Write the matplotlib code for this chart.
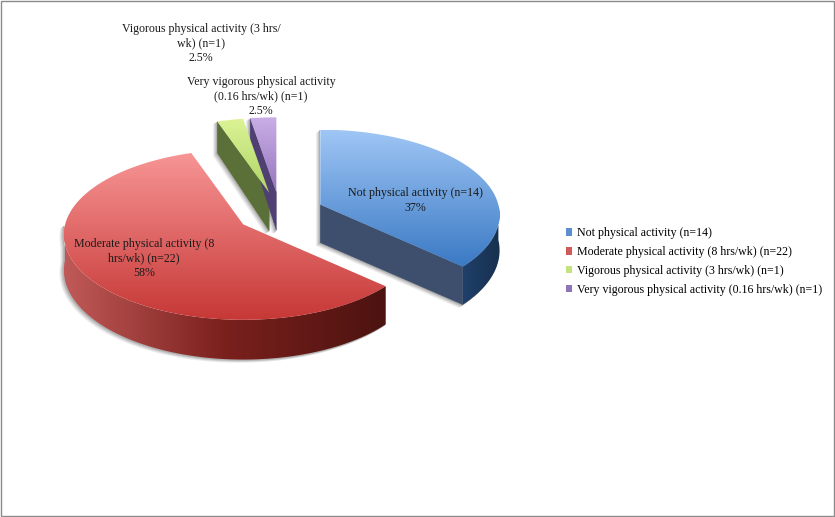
import numpy as np
import matplotlib
matplotlib.use("Agg")
import matplotlib.pyplot as plt
from matplotlib.colors import LinearSegmentedColormap
from matplotlib.patches import Patch, Polygon, Rectangle

plt.rcParams['font.family'] = ['Liberation Serif', 'DejaVu Serif']

# data
names = ["Not physical activity (n=14)",
         "Moderate physical activity (8 hrs/wk) (n=22)",
         "Vigorous physical activity (3 hrs/wk) (n=1)",
         "Very vigorous physical activity (0.16 hrs/wk) (n=1)"]
counts = [14, 22, 1, 1]
slice_labels = ["Not physical activity (n=14)\n37%",
                "Moderate physical activity (8\nhrs/wk) (n=22)\n58%",
                "Vigorous physical activity (3 hrs/\nwk) (n=1)\n2.5%",
                "Very vigorous physical activity\n(0.16 hrs/wk) (n=1)\n2.5%"]

# layout, all in image pixels
label_pos = [(415, 199), (144, 257), (201, 42), (261, 94.5)]
line_step = 14.5
cx, cy = 280, 213
radius, tilt = 178, 84
explode = 44
persp = 0.12
depth = 35
apex_depth = 38

top_colors = [("#9fc6f5", "#3a79c4"), ("#f79595", "#c63836"),
              ("#dcf396", "#aed566"), ("#c9aee6", "#9676bd")]
rim_colors = [("#20406a", "#17304f"), ("#c05a58", "#7a201d", "#4c1310"),
              ("#5c7038", "#5c7038"), ("#4e3f70", "#4e3f70")]
wall_colors = ["#3d4f6d", "#7a201d", "#5b6f38", "#4f3f72"]
legend_colors = ["#5b8fd0", "#d05a58", "#c4e27e", "#8f74b8"]
shadow_layers = [(4, "#ededed"), (3, "#dcdcdc"), (2, "#c6c6c6"), (1, "#b0b0b0")]


def project(angle, cen, r=1.0):
    # angle in degrees clockwise from 12 o'clock, front of the disc is bigger
    a = np.radians(angle)
    X, Y = r * np.sin(a), -r * np.cos(a)
    s = 1 / (1 - persp * Y)
    return cen[0] + radius * X * s, cen[1] + tilt * Y * s, s


def gradient_fill(ax, poly, colors, horizontal=False, zorder=2):
    poly = np.array(poly)
    x0, y0 = poly.min(axis=0)
    x1, y1 = poly.max(axis=0)
    cmap = LinearSegmentedColormap.from_list("g", colors)
    grad = np.linspace(0, 1, 256)
    grad = grad.reshape(1, -1) if horizontal else grad.reshape(-1, 1)
    im = ax.imshow(grad, cmap=cmap, extent=(x0, x1, y1, y0), aspect='auto',
                   zorder=zorder, interpolation='bilinear')
    patch = Polygon(poly, closed=True, transform=ax.transData, fc='none', ec='none')
    ax.add_patch(patch)
    im.set_clip_path(patch)


def wall_poly(angle, cen):
    x, y, s = project(angle, cen)
    return [cen, (x, y), (x, y + depth * s), (cen[0], cen[1] + apex_depth)]


fig = plt.figure(figsize=(8.35, 5.17), dpi=100)
ax = fig.add_axes([0, 0, 1, 1])

fractions = np.array(counts) / sum(counts)
edges = np.concatenate([[0], np.cumsum(fractions) * 360])

for i in range(len(counts)):
    a0, a1 = edges[i], edges[i + 1]
    mid = np.radians((a0 + a1) / 2)
    cen = (cx + explode * np.sin(mid),
           cy - explode * np.cos(mid) * tilt / radius)

    angles = np.linspace(a0, a1, 120)
    arc = [project(a, cen) for a in angles]
    top = [cen] + [(p[0], p[1]) for p in arc]

    walls = [wall_poly(a0, cen), wall_poly(a1, cen)]

    # cut faces only show when they turn towards the viewer
    visible = []
    if np.sin(np.radians(a0)) < -0.01:
        visible.append(walls[0])
    if np.sin(np.radians(a1)) > 0.01:
        visible.append(walls[1])

    # outer rim, only the part that faces the viewer
    front = angles[(angles >= 90) & (angles <= 270)]
    rim = None
    if len(front) > 1:
        pts = [project(a, cen) for a in front]
        rim = [(p[0], p[1]) for p in pts] + [(p[0], p[1] + depth * p[2]) for p in pts[::-1]]

    # soft shadow to the lower left
    shadow_polys = walls + ([rim] if rim is not None else [])
    for off, col in shadow_layers:
        for p in shadow_polys:
            p2 = np.array(p) + [-off, off * 0.7]
            ax.add_patch(Polygon(p2, closed=True, fc=col, ec=col, lw=0.5, zorder=1))

    for w in visible:
        ax.add_patch(Polygon(w, closed=True, fc=wall_colors[i], ec=wall_colors[i], lw=0.3, zorder=2))
    if rim is not None:
        gradient_fill(ax, rim, rim_colors[i], horizontal=True, zorder=3)
    gradient_fill(ax, top, top_colors[i], zorder=4)

# lines placed one by one so the spacing stays even
for txt, (x, y) in zip(slice_labels, label_pos):
    lines = txt.split("\n")
    for j, line in enumerate(lines):
        ax.text(x, y + (j - (len(lines) - 1) / 2) * line_step, line, ha='center',
                va='center_baseline', fontsize=8.6, color='#1a1a1a', zorder=6)

# picture frame
ax.add_patch(Rectangle((0.5, 0.5), 833, 515.5, fc='none', ec='#8a8a8a', lw=1, zorder=7))

handles = [Patch(fc=c, ec='none') for c in legend_colors]
ax.legend(handles, names, loc='upper left', bbox_to_anchor=(566, 227),
          bbox_transform=ax.transData, frameon=False, fontsize=8.6,
          handlelength=0.5, handleheight=0.6, handletextpad=0.42,
          labelspacing=0.58, borderpad=0, borderaxespad=0)

ax.set_xlim(0, 835)
ax.set_ylim(517, 0)
ax.axis('off')

fig.savefig("out.png", dpi=100)
plt.close()
